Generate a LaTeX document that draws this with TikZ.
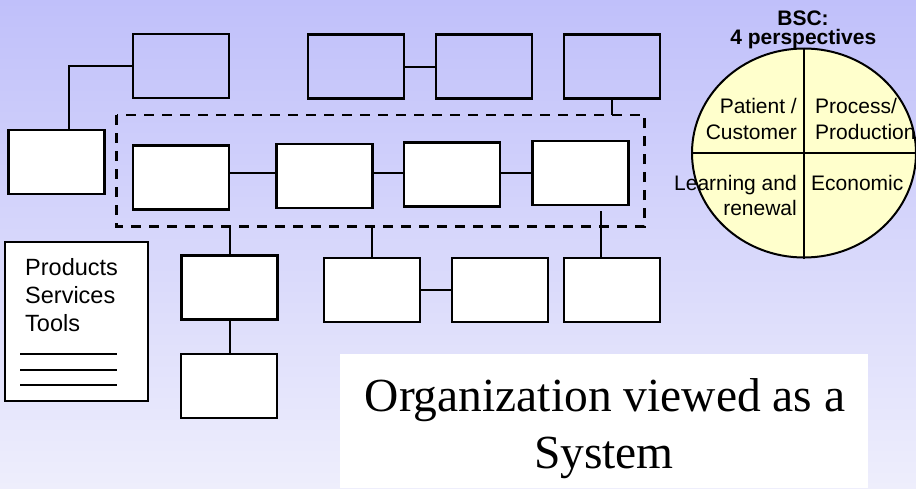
\documentclass[tikz,border=0pt]{standalone}
\usepackage{fontspec}
\setmainfont{Liberation Sans}
\newfontfamily\serifcaption{Liberation Serif}
\usetikzlibrary{shapes.geometric,calc}

\definecolor{bgtop}{RGB}{192,192,250}
\definecolor{bgbottom}{RGB}{238,238,252}
\definecolor{bscyellow}{RGB}{255,255,204}

\begin{document}
\begin{tikzpicture}[x=1pt, y=-1pt,
  orgbox/.style={draw, line width=2.2pt, minimum width=96pt, minimum height=64pt, inner sep=0pt},
  unitbox/.style={orgbox, fill=white},
  link/.style={line width=2pt},
  groupline/.style={line width=2.5pt, dash pattern=on 10pt off 8pt},
  rule/.style={line width=1.4pt},
  sectorlabel/.style={font=\fontsize{21}{25}\selectfont, inner sep=0pt},
  listlabel/.style={font=\fontsize{23.5}{28}\selectfont, inner sep=0pt, anchor=base west},
  headlabel/.style={font=\fontsize{21}{20}\selectfont\bfseries, inner sep=0pt, anchor=base},
  captionlabel/.style={font=\serifcaption\fontsize{47.5}{57}\selectfont, inner sep=0pt, anchor=base}
]
\useasboundingbox (0,0) rectangle (916,488);
\shade[top color=bgtop, bottom color=bgbottom] (0,0) rectangle (916,488);

% top row of units (outside the group)
\node[orgbox] (T1) at (181,66.3) {};
\node[orgbox] (T2) at (356.3,66.5) {};
\node[orgbox] (T3) at (484.2,66.5) {};
\node[orgbox] (T4) at (612.3,66.5) {};

% unit on the left
\node[unitbox] (L) at (56.5,162) {};

% grouped middle row
\node[unitbox] (M1) at (181,177.5) {};
\node[unitbox] (M2) at (324.5,176.2) {};
\node[unitbox] (M3) at (452.3,174.5) {};
\node[unitbox] (M4) at (580.5,173.2) {};
\coordinate (row) at (0,173.3);
\coordinate (gNW) at (116.5,115);
\coordinate (gSE) at (644.5,226.5);
\draw[groupline] (gNW) rectangle (gSE);

% bottom units
\node[unitbox] (B1) at (229.5,287.5) {};
\node[unitbox] (B2) at (229,386) {};
\node[unitbox] (B3) at (372.3,290) {};
\node[unitbox] (B4) at (500.3,290) {};
\node[unitbox] (B5) at (612.3,290) {};
\coordinate (b5top) at (601,211);

% connectors
\draw[link] (T1.west) -| ($(L.north)+(12.5,0)$);
\draw[link] (T2.east) -- (T3.west);
\draw[link] (T4.south) -- (T4.south |- gNW);
\draw[link] (M1.east |- row) -- (M2.west |- row);
\draw[link] (M2.east |- row) -- (M3.west |- row);
\draw[link] (M3.east |- row) -- (M4.west |- row);
\draw[link] (B1.north) -- (B1.north |- gSE);
\draw[link] (B1.south) -- (B1.south |- B2.north);
\draw[link] (B3.north) -- (B3.north |- gSE);
\draw[link] (B3.east) -- (B4.west);
\draw[link] (b5top) -- (b5top |- B5.north);

% products / services / tools sheet
\node[draw, fill=white, line width=2pt, minimum width=143pt, minimum height=159pt, inner sep=0pt] (sheet) at (76.5,321.5) {};
\node[listlabel] (prod) at (25,275.7) {Products};
\node[listlabel] (serv) at (25,303.3) {Services};
\node[listlabel] (tools) at (25,331.3) {Tools};
\coordinate (r1a) at (20,354);  \coordinate (r1b) at (117,354);
\coordinate (r2a) at (20,370);  \coordinate (r2b) at (117,370);
\coordinate (r3a) at (20,385);  \coordinate (r3b) at (117,385);
\draw[rule] (r1a) -- (r1b);
\draw[rule] (r2a) -- (r2b);
\draw[rule] (r3a) -- (r3b);

% balanced scorecard disc
\node[headlabel] (bsc1) at (803,25) {BSC:};
\node[headlabel] (bsc2) at (803.3,44.5) {4 perspectives};
\node[draw, ellipse, line width=2pt, fill=bscyellow, minimum width=224pt, minimum height=209pt, inner sep=0pt] (bsc) at (804,153) {};
\draw[link] (bsc.north) -- (bsc.south);
\draw[link] (bsc.west) -- (bsc.east);
\node[sectorlabel, anchor=base east] (pc1) at (797,113.3) {Patient /};
\node[sectorlabel, anchor=base east] (pc2) at (797,139) {Customer};
\node[sectorlabel, anchor=base west] (pp1) at (815,113.3) {Process/};
\node[sectorlabel, anchor=base west] (pp2) at (815,139) {Production};
\node[sectorlabel, anchor=base east] (lr1) at (797,190) {Learning and};
\node[sectorlabel, anchor=base east] (lr2) at (797,215) {renewal};
\node[sectorlabel, anchor=base west] (ec) at (811,190) {Economic};

% caption panel
\node[fill=white, minimum width=528pt, minimum height=134pt, inner sep=0pt] (captionbox) at (604,421) {};
\node[captionlabel] (cap1) at (605,411) {Organization viewed as a};
\node[captionlabel] (cap2) at (604,468.3) {System};
\end{tikzpicture}
\end{document}
